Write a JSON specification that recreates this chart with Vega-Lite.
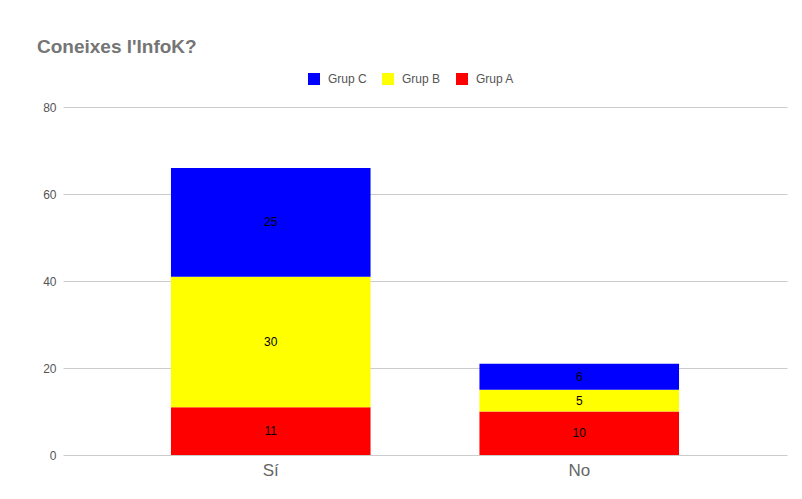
{
  "$schema": "https://vega.github.io/schema/vega-lite/v6.json",
  "width": 724,
  "height": 348,
  "autosize": "none",
  "padding": {"left": 63, "top": 107, "right": 15, "bottom": 44},
  "background": "white",
  "title": {
    "text": "Coneixes l'InfoK?",
    "anchor": "start",
    "frame": "group",
    "dx": -26,
    "offset": 16,
    "fontSize": 19,
    "font": "Liberation Sans",
    "fontWeight": "bold",
    "color": "#757575"
  },
  "data": {
    "values": [
      {"answer": "Sí", "group": "Grup A", "count": 11},
      {"answer": "Sí", "group": "Grup B", "count": 30},
      {"answer": "Sí", "group": "Grup C", "count": 25},
      {"answer": "No", "group": "Grup A", "count": 10},
      {"answer": "No", "group": "Grup B", "count": 5},
      {"answer": "No", "group": "Grup C", "count": 6}
    ]
  },
  "encoding": {
    "x": {
      "field": "answer",
      "type": "nominal",
      "sort": ["Sí", "No"],
      "scale": {"paddingInner": 0.353, "paddingOuter": 0.35},
      "axis": {
        "title": null,
        "labelAngle": 0,
        "labelFontSize": 17,
        "labelColor": "#666666",
        "labelFont": "Liberation Sans",
        "labelPadding": 7,
        "ticks": false,
        "domain": false
      }
    },
    "y": {
      "field": "count",
      "type": "quantitative",
      "stack": "zero",
      "scale": {"domain": [0, 80]},
      "axis": {
        "title": null,
        "values": [0, 20, 40, 60, 80],
        "labelFontSize": 12,
        "labelColor": "#555555",
        "labelFont": "Liberation Sans",
        "labelPadding": 7,
        "ticks": false,
        "domain": false,
        "gridColor": "#cccccc",
        "gridWidth": 1
      }
    },
    "order": {"field": "group", "sort": "ascending"}
  },
  "layer": [
    {
      "mark": {"type": "bar"},
      "encoding": {
        "color": {
          "field": "group",
          "type": "nominal",
          "scale": {
            "domain": ["Grup C", "Grup B", "Grup A"],
            "range": ["#0000ff", "#ffff00", "#ff0000"]
          },
          "legend": {
            "title": null,
            "orient": "none",
            "legendX": 245,
            "legendY": -34,
            "direction": "horizontal",
            "symbolType": "square",
            "symbolSize": 144,
            "symbolStrokeWidth": 0,
            "labelFontSize": 12,
            "labelColor": "#555555",
            "labelFont": "Liberation Sans",
            "columnPadding": 15,
            "labelOffset": 8
          }
        }
      }
    },
    {
      "mark": {"type": "text", "color": "black", "fontSize": 12, "font": "Liberation Sans", "baseline": "middle"},
      "encoding": {
        "y": {"field": "count", "type": "quantitative", "stack": "zero", "bandPosition": 0.5},
        "text": {"field": "count", "type": "quantitative"}
      }
    },
    {
      "mark": {"type": "rule", "color": "#333333", "strokeWidth": 1},
      "encoding": {"y": {"datum": 0}}
    }
  ],
  "config": {"view": {"stroke": null}}
}
